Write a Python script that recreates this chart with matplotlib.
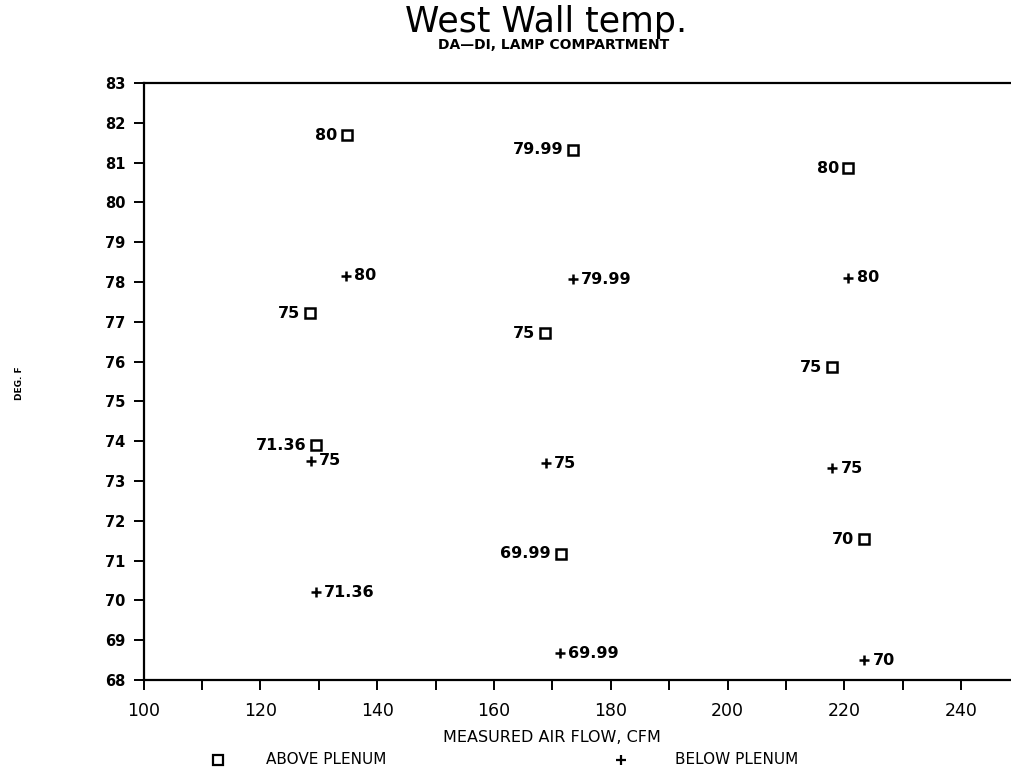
import matplotlib
matplotlib.use("Agg")
import matplotlib.pyplot as plt
from matplotlib.ticker import MultipleLocator

# Measured air flow (CFM) and wall temperature (deg F)
above_x = [134.8, 173.5, 220.7, 128.5, 168.7, 217.9, 129.5, 171.4, 223.4]
above_y = [81.69, 81.32, 80.86, 77.21, 76.71, 75.86, 73.90, 71.17, 71.54]
above_lbl = ["80", "79.99", "80", "75", "75", "75", "71.36", "69.99", "70"]

below_x = [134.6, 173.5, 220.7, 128.6, 168.9, 217.9, 129.5, 171.3, 223.4]
below_y = [78.16, 78.07, 78.11, 73.51, 73.44, 73.32, 70.20, 68.67, 68.50]
below_lbl = ["80", "79.99", "80", "75", "75", "75", "71.36", "69.99", "70"]

x_ticks = [100, 120, 140, 160, 180, 200, 220, 240]
y_ticks = list(range(68, 84))

W, H = 1012, 782
fig = plt.figure(figsize=(W / 100, H / 100), dpi=100)
left, right, top, bottom = 143.6, 1012, 83, 680
ax = fig.add_axes([left / W, 1 - bottom / H, (right - left) / W, (bottom - top) / H])

ax.plot(above_x, above_y, ls="none", marker="s", ms=7.5, mfc="white",
        mec="black", mew=1.8)
ax.plot(below_x, below_y, ls="none", marker="+", ms=7, mec="black", mew=1.8)

for x, y, t in zip(above_x, above_y, above_lbl):
    ax.annotate(t, (x, y), xytext=(-7, 0), textcoords="offset points",
                ha="right", va="center", fontsize=11.5, fontweight="bold")
for x, y, t in zip(below_x, below_y, below_lbl):
    ax.annotate(t, (x, y), xytext=(6, 0), textcoords="offset points",
                ha="left", va="center", fontsize=11.5, fontweight="bold")

ax.set_xlim(100, 100 + (right - left) / 5.84)
ax.set_ylim(68, 83)
ax.set_xticks(x_ticks)
ax.xaxis.set_minor_locator(MultipleLocator(10))
ax.set_yticks(y_ticks)

ax.spines["right"].set_visible(False)
for s in ("left", "bottom", "top"):
    ax.spines[s].set_linewidth(1.6)

ax.tick_params(axis="x", which="both", direction="out", length=7, width=1.4,
               pad=9, labelsize=12.5)
ax.tick_params(axis="y", which="both", direction="out", length=7, width=1.4,
               pad=6, labelsize=10.5)
for lab in ax.get_yticklabels():
    lab.set_fontweight("bold")

fig.text(546 / W, 1 - 22 / H, "West Wall temp.", ha="center", va="center",
         fontsize=25)
fig.text(554 / W, 1 - 45 / H, "DA\u2014DI, LAMP COMPARTMENT", ha="center",
         va="center", fontsize=10, fontweight="bold")
fig.text(20 / W, 1 - 383 / H, "DEG. F", rotation=90, ha="center", va="center",
         fontsize=6.5, fontweight="bold")
fig.text(552 / W, 1 - 737 / H, "MEASURED AIR FLOW, CFM", ha="center",
         va="center", fontsize=11.5)

# Legend row under the x-axis title
ly = 1 - 760 / H
fig.lines.append(plt.Line2D([218 / W], [ly], transform=fig.transFigure,
                            ls="none", marker="s", ms=7, mfc="white",
                            mec="black", mew=1.6))
fig.text(266 / W, ly, "ABOVE PLENUM", ha="left", va="center", fontsize=11)
fig.lines.append(plt.Line2D([621 / W], [ly], transform=fig.transFigure,
                            ls="none", marker="+", ms=7, mec="black", mew=1.6))
fig.text(675 / W, ly, "BELOW PLENUM", ha="left", va="center", fontsize=11)

fig.savefig("out.png", dpi=100)
